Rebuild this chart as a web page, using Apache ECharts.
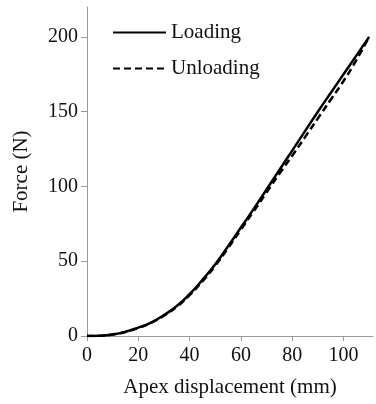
<!DOCTYPE html>
<html>
<head>
<meta charset="utf-8">
<script src="https://cdn.jsdelivr.net/npm/echarts@6/dist/echarts.min.js"></script>
<style>
  html, body { margin: 0; padding: 0; background: #fff; }
  #main { width: 376px; height: 404px; }
</style>
</head>
<body>
<div id="main"></div>
<script>
// apex displacement (mm)
var displacement = [0, 5, 10, 15, 20, 25, 30, 35, 40, 45, 50, 55, 60, 65, 70, 75, 80, 85, 90, 95, 100, 105, 110];
// force (N)
var loadingForce = [0, 0.2, 1, 2.8, 5.6, 9, 14, 20, 28, 37.5, 48, 60, 72.5, 85, 98, 111, 124, 137, 150, 162.5, 175, 187.5, 200];
var unloadingForce = [0, 0.2, 1, 2.7, 5.4, 8.8, 13.6, 19.5, 27.3, 36.5, 47, 58.8, 71.2, 83.5, 96, 108.5, 120.5, 133, 145.5, 158, 170.5, 184.5, 200];

var seriesNames = ['Loading', 'Unloading'];

function pairs(xs, ys) {
    var out = [];
    for (var i = 0; i < xs.length; i++) {
        out.push([xs[i], ys[i]]);
    }
    return out;
}

var font = 'Liberation Serif';
var myChart = echarts.init(document.getElementById('main'));

var option = {
    backgroundColor: '#fff',
    animation: false,
    grid: { left: 87, right: 3, top: 7, bottom: 68 },
    legend: {
        orient: 'vertical',
        left: 107,
        top: 17,
        itemWidth: 53,
        itemHeight: 3,
        itemGap: 15,
        itemStyle: { opacity: 0 },
        textStyle: { fontFamily: font, fontSize: 21, color: '#111' },
        data: seriesNames
    },
    xAxis: {
        type: 'value',
        min: 0,
        max: 111.5,
        interval: 20,
        name: 'Apex displacement (mm)',
        nameLocation: 'middle',
        nameGap: 41,
        nameTextStyle: { fontFamily: font, fontSize: 21, color: '#111' },
        axisLine: { lineStyle: { color: '#999', width: 1 } },
        axisTick: { show: true, length: 5, lineStyle: { color: '#999' } },
        axisLabel: { fontFamily: font, fontSize: 20, color: '#111', margin: 10, showMaxLabel: false },
        splitLine: { show: false }
    },
    yAxis: {
        type: 'value',
        min: 0,
        max: 220,
        interval: 50,
        name: 'Force (N)',
        nameLocation: 'middle',
        nameGap: 55,
        nameTextStyle: { fontFamily: font, fontSize: 21, color: '#111' },
        axisLine: { show: true, lineStyle: { color: '#999', width: 1 } },
        axisTick: { show: true, length: 6, lineStyle: { color: '#999' } },
        axisLabel: { fontFamily: font, fontSize: 20, color: '#111', margin: 9, showMaxLabel: false },
        splitLine: { show: false }
    },
    series: [
        {
            name: seriesNames[0],
            type: 'line',
            smooth: true,
            symbol: 'none',
            data: pairs(displacement, loadingForce),
            lineStyle: { color: '#000', width: 2.5 },
            itemStyle: { color: '#000' },
            z: 3
        },
        {
            name: seriesNames[1],
            type: 'line',
            smooth: true,
            symbol: 'none',
            data: pairs(displacement, unloadingForce),
            lineStyle: { color: '#000', width: 2.5, type: [7, 4] },
            itemStyle: { color: '#000' },
            z: 2
        }
    ]
};

myChart.setOption(option);
</script>
</body>
</html>
